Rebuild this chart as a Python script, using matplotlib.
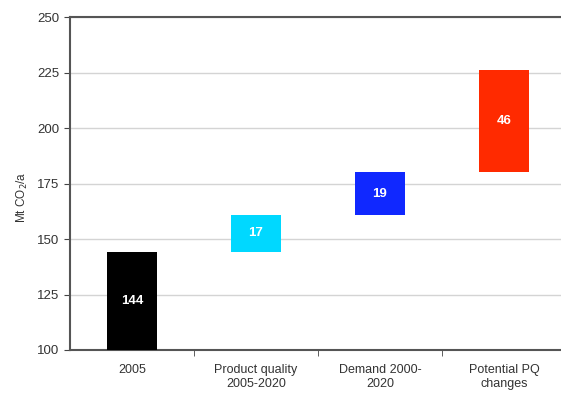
import matplotlib
matplotlib.use("Agg")
import matplotlib.pyplot as plt

categories = ["2005", "Product quality\n2005-2020", "Demand 2000-\n2020", "Potential PQ\nchanges"]
values = [144, 17, 19, 46]
bases = [100, 144, 161, 180]
colors = ["#000000", "#00D8FF", "#1028FF", "#FF2A00"]
yticks = [100, 125, 150, 175, 200, 225, 250]

plt.rcParams["font.family"] = ["Liberation Sans", "DejaVu Sans"]

fig = plt.figure(figsize=(5.61, 3.94), dpi=100)
ax = fig.add_axes([0.1248, 0.1117, 0.884, 0.845])

x = list(range(len(categories)))
heights = [v if i > 0 else v - bases[0] for i, v in enumerate(values)]
ax.bar(x, heights, bottom=bases, width=0.41, color=colors, zorder=3)
for xi, b, h, v in zip(x, bases, heights, values):
    ax.text(xi, b + h / 2, str(v), ha="center", va="center", color="white",
            fontsize=9.5, fontweight="bold", zorder=4)

ax.set_xlim(-0.5, 3.5)
ax.set_ylim(100, 250)
ax.set_yticks(yticks)
ax.yaxis.grid(True, color="#d4d4d4", linewidth=1, zorder=0)
ax.set_xticks(x)
ax.set_xticklabels(categories, fontsize=9, color="#333333", linespacing=1.2)
ax.tick_params(axis="x", length=0, pad=10)
ax.set_xticks([0.5, 1.5, 2.5], minor=True)
ax.tick_params(axis="x", which="minor", length=4, direction="out", color="#444444")
ax.tick_params(axis="y", labelsize=9.5, length=4, colors="#444444", labelcolor="#333333")
ax.set_ylabel("Mt CO$_2$/a", fontsize=8.5, color="#333333", labelpad=3)
ax.yaxis.set_label_coords(-0.08, 0.46)

for side in ["left", "bottom", "top"]:
    ax.spines[side].set_color("#555555")
    ax.spines[side].set_linewidth(1.5)
ax.spines["right"].set_visible(False)

fig.savefig("out.png", dpi=100)
